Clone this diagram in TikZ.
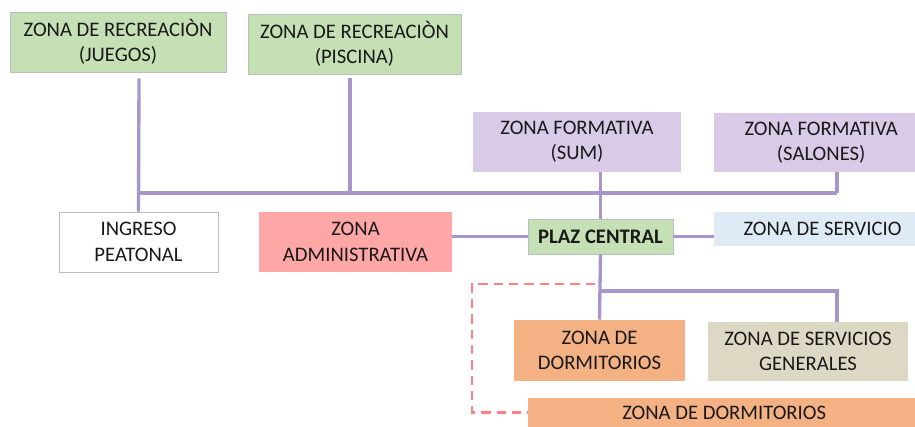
\documentclass[tikz,border=0pt]{standalone}
\usepackage{fontspec}
\setmainfont{Carlito}
\definecolor{cgreen}{HTML}{C5E0B4}
\definecolor{cpurple}{HTML}{D9CAE7}
\definecolor{cpink}{HTML}{FFA6A6}
\definecolor{cblue}{HTML}{DEEBF7}
\definecolor{corange}{HTML}{F4B183}
\definecolor{cbeige}{HTML}{DDD8C3}
\definecolor{cline}{HTML}{A696CB}
\definecolor{cdash}{HTML}{FF7F86}
\definecolor{cborder}{HTML}{BDBDBD}
\begin{document}
\begin{tikzpicture}[x=0.75pt,y=-0.75pt,
  zbox/.style={inner sep=0pt, align=center, font=\fontsize{15.5}{19}\selectfont, text=black!90},
  conn/.style={draw=cline, line width=2.5pt},
  dashconn/.style={draw=cdash, line width=1.8pt, dash pattern=on 7pt off 4.5pt}]
\useasboundingbox (0,0) rectangle (915,427);
\node[zbox, fill=cgreen, draw=cborder, line width=0.6pt, minimum width=216*0.75pt, minimum height=60*0.75pt] (juegos) at (118,42) {ZONA DE RECREACIÒN\\(JUEGOS)};
\node[zbox, fill=cgreen, draw=cborder, line width=0.6pt, minimum width=213*0.75pt, minimum height=60*0.75pt] (piscina) at (354.5,44) {ZONA DE RECREACIÒN\\(PISCINA)};
\node[zbox, fill=cpurple, minimum width=208*0.75pt, minimum height=60*0.75pt] (sum) at (577,142) {ZONA FORMATIVA\\(SUM)};
\node[zbox, fill=cpurple, minimum width=201*0.75pt, minimum height=59*0.75pt] (salones) at (814.5,142.5) {\hspace*{10pt}ZONA FORMATIVA\\\hspace*{10pt}(SALONES)};
\node[zbox, fill=white, draw=cborder, line width=0.6pt, minimum width=159*0.75pt, minimum height=60*0.75pt] (ingreso) at (138.5,242) {INGRESO\\PEATONAL};
\node[zbox, fill=cpink, minimum width=193*0.75pt, minimum height=60*0.75pt] (admin) at (355.5,242) {ZONA\\ADMINISTRATIVA};
\node[zbox, fill=cgreen, draw=cborder, line width=0.6pt, minimum width=145*0.75pt, minimum height=35*0.75pt, font=\fontsize{15.5}{19}\selectfont\bfseries] (plaz) at (600.5,236.5) {PLAZ CENTRAL};
\node[zbox, fill=cblue, minimum width=201*0.75pt, minimum height=34*0.75pt] (servicio) at (814.5,229) {\hspace*{12pt}ZONA DE SERVICIO};
\node[zbox, fill=corange, minimum width=171*0.75pt, minimum height=61*0.75pt] (dorm) at (599.5,350.5) {ZONA DE\\DORMITORIOS};
\node[zbox, fill=cbeige, minimum width=200*0.75pt, minimum height=59*0.75pt] (servgen) at (808,351.5) {ZONA DE SERVICIOS\\GENERALES};
\node[zbox, fill=corange, minimum width=387*0.75pt, minimum height=29*0.75pt] (dormb) at (721.5,412.5) {\hspace*{4pt}ZONA DE DORMITORIOS};
% junctions
\coordinate (busL) at (139,193);
\coordinate (busR) at (837,193);
\coordinate (sg) at (837,291);
\coordinate (d1) at (595,284);
\coordinate (dc) at (472,284);
% connectors
\draw[conn] (busL |- juegos.south) ++(0,6) -- (ingreso.north);
\draw[conn] (busL) -- (busR);
\draw[conn] ([xshift=-3.4pt,yshift=-3pt]piscina.south) -- ([xshift=-3.4pt]piscina.south |- busL);
\draw[conn] (busR |- salones.south) -- (busR);
\draw[conn] (plaz.north |- sum.south) -- (plaz.north);
\draw[conn] (plaz.south) -- (dorm.north);
\draw[conn] (plaz.south |- sg) -- (sg) -- (sg |- servgen.north);
\draw[conn] (plaz.west -| admin.east) -- (plaz.west);
\draw[conn] (plaz.east) -- (plaz.east -| servicio.west);
\draw[dashconn] (d1) -- (dc) |- (dormb.west);
\end{tikzpicture}
\end{document}
